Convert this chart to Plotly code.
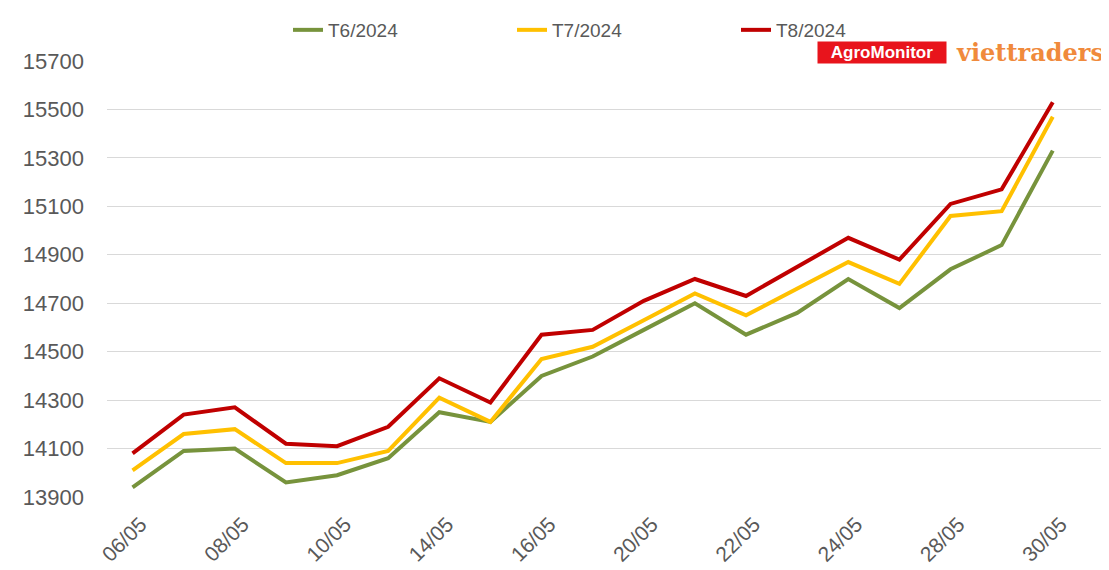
import plotly.graph_objects as go

dates = ["06/05", "07/05", "08/05", "09/05", "10/05", "13/05", "14/05", "15/05", "16/05", "17/05",
         "20/05", "21/05", "22/05", "23/05", "24/05", "27/05", "28/05", "29/05", "30/05"]
t6 = [13940, 14090, 14100, 13960, 13990, 14060, 14250, 14210, 14400, 14480,
      14590, 14700, 14570, 14660, 14800, 14680, 14840, 14940, 15330]
t7 = [14010, 14160, 14180, 14040, 14040, 14090, 14310, 14210, 14470, 14520,
      14630, 14740, 14650, 14760, 14870, 14780, 15060, 15080, 15470]
t8 = [14080, 14240, 14270, 14120, 14110, 14190, 14390, 14290, 14570, 14590,
      14710, 14800, 14730, 14850, 14970, 14880, 15110, 15170, 15530]
series_names = ["T6/2024", "T7/2024", "T8/2024"]
colors = ["#77933c", "#ffc000", "#c00000"]
tick_labels = ["06/05", "08/05", "10/05", "14/05", "16/05", "20/05", "22/05", "24/05", "28/05", "30/05"]
y_ticks = [13900, 14100, 14300, 14500, 14700, 14900, 15100, 15300, 15500, 15700]

FONT = "Arial, 'Liberation Sans', sans-serif"
# page body has an 8px margin; figure coordinates are offset accordingly
fig = go.Figure()
for name, vals, col in zip(series_names, [t6, t7, t8], colors):
    fig.add_trace(go.Scatter(x=list(range(len(dates))), y=vals, mode="lines", name=name,
                             line=dict(color=col, width=4)))

tick_idx = [dates.index(t) for t in tick_labels]

fig.update_layout(
    width=1109, height=570,
    margin=dict(l=99, r=8, t=53, b=81, autoexpand=False),
    paper_bgcolor="white", plot_bgcolor="white",
    font=dict(family=FONT, color="#595959", size=19),
    showlegend=True,
    legend=dict(orientation="h", xref="container", x=280 / 1109, xanchor="left",
                yref="container", y=1 - 22 / 570, yanchor="middle",
                entrywidth=179, entrywidthmode="pixels", borderwidth=0,
                font=dict(size=19, color="#595959"), bgcolor="rgba(0,0,0,0)"),
    xaxis=dict(range=[-0.5, 19.1], tickmode="array", tickvals=tick_idx, ticktext=tick_labels,
               tickangle=-45, showgrid=False, zeroline=False, showline=False, automargin=False,
               tickfont=dict(size=21, color="#595959"), ticks="",
               ticklabelstandoff=10, ticklabelshift=8),
    yaxis=dict(range=[13900, 15700], tickmode="array", tickvals=y_ticks,
               ticktext=[str(v) for v in y_ticks],
               showgrid=True, gridcolor="#d9d9d9", gridwidth=1, zeroline=False, automargin=False,
               showline=False, tickfont=dict(size=22, color="#595959"), ticks="",
               ticklabelstandoff=22),
)

fig.add_annotation(xref="paper", yref="paper", x=(817 - 107) / 1002, y=1.0, yshift=9,
                   xanchor="left", yanchor="middle", text="<b>AgroMonitor</b>", showarrow=False,
                   font=dict(family=FONT, size=17, color="white"), bgcolor="#e8141c",
                   width=126, height=19, borderpad=1)
fig.add_annotation(xref="paper", yref="paper", x=(954 - 107) / 1002, y=1.0, yshift=9,
                   xanchor="left", yanchor="middle", text="<b>viettraders</b>", showarrow=False,
                   font=dict(family="'DejaVu Serif', 'Liberation Serif', serif", size=24,
                             color="#f08a3c"))

fig.write_html("out.html")
